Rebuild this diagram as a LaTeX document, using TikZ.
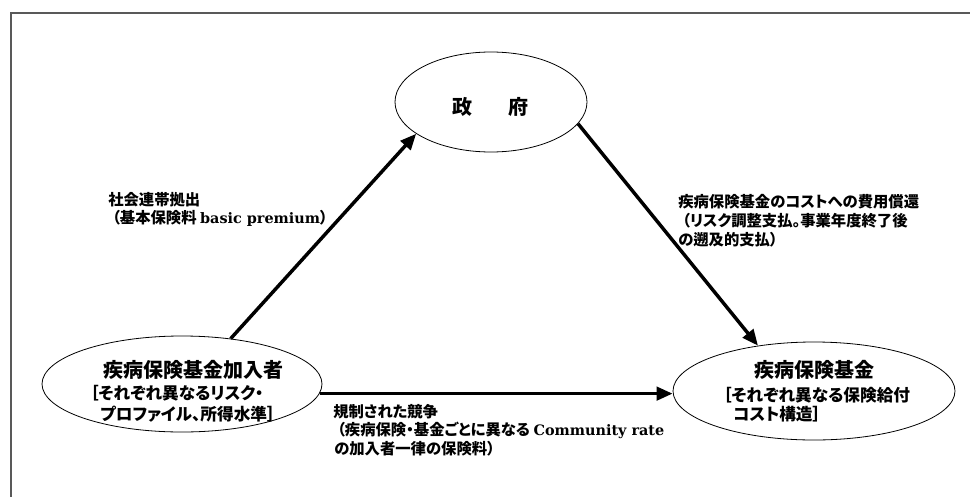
\documentclass[tikz,border=0pt]{standalone}
\usepackage{fontspec}
\setmainfont{Liberation Serif}
\newfontfamily\jpfont{Noto Sans CJK JP}[RawFeature=+palt]
\newfontfamily\latfont{DejaVu Serif}
\usetikzlibrary{shapes.geometric,arrows.meta}
\tikzset{
  ell/.style={ellipse, draw, line width=0.6pt, inner sep=0pt},
  ttl/.style={font=\jpfont\bfseries\fontsize{15}{15}\selectfont, inner sep=0pt},
  sub/.style={font=\jpfont\bfseries\fontsize{12.5}{12.5}\selectfont, inner sep=0pt, anchor=west},
  lab/.style={font=\jpfont\bfseries\fontsize{11.5}{11.5}\selectfont, inner sep=0pt, anchor=west},
  arr/.style={line width=2.6pt, -{Triangle[length=12pt,width=10pt]}},
  frame/.style={draw=black!65, line width=1.5pt}
}
\newcommand{\lat}[1]{{\latfont\bfseries\fontsize{10.8}{10.8}\selectfont #1}}
\begin{document}
\begin{tikzpicture}[x=0.75pt,y=-0.75pt]
\useasboundingbox (0,0) rectangle (970,496);
\draw[frame] (11,500) -- (11,13) -- (972,13);
% ellipses
\node[ell, minimum width=144pt, minimum height=75pt] (gov) at (491,102) {};
\node[ell, minimum width=210pt, minimum height=72pt] (mem) at (182,384) {};
\node[ell, minimum width=211.5pt, minimum height=73.5pt] (fund) at (814,391) {};
% ellipse texts
\node[ttl] (govt) at (490,107) {政\hspace{27pt}府};
\node[ttl] (memt) at (193,370) {疾病保険基金加入者};
\node[sub] (mems1) at (90,393) {［それぞれ異なるリスク・};
\node[sub] (mems2) at (100,414) {プロファイル、所得水準］};
\node[ttl] (fundt) at (814,370) {疾病保険基金};
\node[sub] (funds1) at (723,395) {［それぞれ異なる保険給付};
\node[sub] (funds2) at (733,414) {コスト構造］};
% labels
\node[lab] (la1) at (108,200) {社会連帯拠出};
\node[lab] (la2) at (112,218) {（基本保険料 \lat{basic premium}）};
\node[lab] (lb1) at (678,202) {疾病保険基金のコストへの費用償還};
\node[lab] (lb2) at (682,221) {（リスク調整支払。事業年度終了後};
\node[lab] (lb3) at (678,240) {の遡及的支払）};
\node[lab] (lc1) at (333,412) {規制された競争};
\node[lab] (lc2) at (337,430) {（疾病保険・基金ごとに異なる \lat{Community rate}};
\node[lab] (lc3) at (334,449) {の加入者一律の保険料）};
% arrows
\draw[arr] (mem.43) -- (gov.203.5);
\draw[arr] (gov.346) -- (fund.141);
\draw[arr] (mem.356) -- (mem.356 -| fund.west);
\end{tikzpicture}
\end{document}
